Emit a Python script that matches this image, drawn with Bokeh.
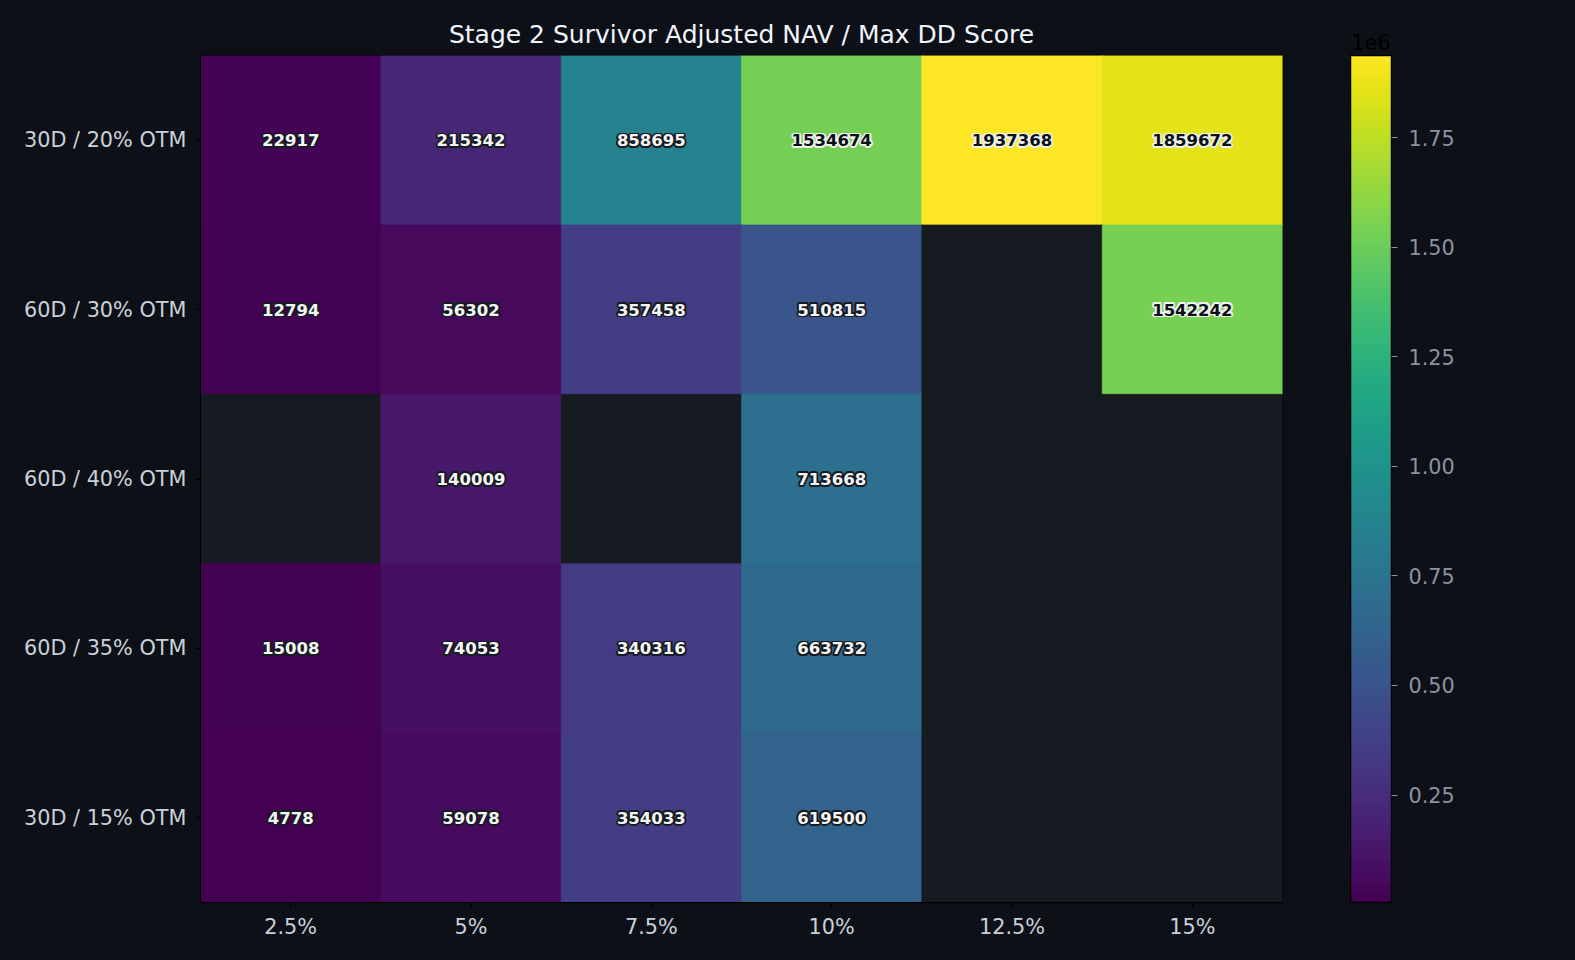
import math
from bokeh.plotting import figure
from bokeh.layouts import row
from bokeh.models import (ColumnDataSource, FactorRange, LinearColorMapper, ColorBar,
                          FixedTicker, CustomJSTickFormatter)
from bokeh.palettes import Viridis256
from bokeh.core.properties import value
from bokeh.embed import file_html
from bokeh.resources import INLINE

NAN = float("nan")

x_labels = ["2.5%", "5%", "7.5%", "10%", "12.5%", "15%"]
y_labels = ["30D / 20% OTM", "60D / 30% OTM", "60D / 40% OTM", "60D / 35% OTM", "30D / 15% OTM"]

row_30d_20 = [22917, 215342, 858695, 1534674, 1937368, 1859672]
row_60d_30 = [12794, 56302, 357458, 510815, NAN, 1542242]
row_60d_40 = [NAN, 140009, NAN, 713668, NAN, NAN]
row_60d_35 = [15008, 74053, 340316, 663732, NAN, NAN]
row_30d_15 = [4778, 59078, 354033, 619500, NAN, NAN]

rows = [row_30d_20, row_60d_30, row_60d_40, row_60d_35, row_30d_15]

cbar_ticks = [250000, 500000, 750000, 1000000, 1250000, 1500000, 1750000]

BG = "#0d1117"
NAN_COLOR = "#161b22"
FONT = "DejaVu Sans"

W, H = 1575, 960
FRAME_L, FRAME_T, FRAME_W, FRAME_H = 200, 55, 1082, 847
BAR_L, BAR_W = 1350, 41

xs, ys, vals = [], [], []
for yl, r_ in zip(y_labels, rows):
    for xl, v in zip(x_labels, r_):
        xs.append(xl)
        ys.append(yl)
        vals.append(v)

finite = [v for v in vals if not math.isnan(v)]
vmin, vmax = min(finite), max(finite)

cell_src = ColumnDataSource(dict(x=xs, y=ys, v=vals))

tx, ty, tl, tc, oc = [], [], [], [], []
for x, y, v in zip(xs, ys, vals):
    if math.isnan(v):
        continue
    tx.append(x)
    ty.append(y)
    tl.append(str(int(v)))
    bright = v > (vmax / 2)
    tc.append("#0d1117" if bright else "#f5f5f5")
    oc.append("#eef3ee" if bright else "#161b22")
text_src = ColumnDataSource(dict(x=tx, y=ty, label=tl, tc=tc, oc=oc))

mapper = LinearColorMapper(palette=Viridis256, low=vmin, high=vmax, nan_color=NAN_COLOR)

# ---- heatmap figure ----
p = figure(
    x_range=FactorRange(*x_labels),
    y_range=FactorRange(*list(reversed(y_labels))),
    frame_width=FRAME_W, frame_height=FRAME_H,
    min_border_left=FRAME_L, min_border_right=BAR_L - FRAME_L - FRAME_W,
    min_border_top=FRAME_T, min_border_bottom=H - FRAME_T - FRAME_H,
    output_backend="svg", toolbar_location=None,
    background_fill_color=BG, border_fill_color=BG,
    title="Stage 2 Survivor Adjusted NAV / Max DD Score",
)
p.title.align = "center"
p.title.text_color = "#f0f6fc"
p.title.text_font = FONT
p.title.text_font_size = "25px"
p.title.text_font_style = "normal"
p.title.standoff = 14

p.rect(x="x", y="y", width=1, height=1, source=cell_src, dilate=True,
       fill_color={"field": "v", "transform": mapper},
       line_color={"field": "v", "transform": mapper}, line_width=0.6)

# outline halo for the cell labels
rad = 1.7
offsets = [(rad * math.cos(a * math.pi / 8), rad * math.sin(a * math.pi / 8)) for a in range(16)]
for dx, dy in offsets:
    p.text(x="x", y="y", text="label", source=text_src,
           text_color="oc", x_offset=dx, y_offset=dy,
           text_font=value(FONT), text_font_style="bold", text_font_size="16.5px",
           text_align="center", text_baseline="middle")
p.text(x="x", y="y", text="label", source=text_src,
       text_color="tc",
       text_font=value(FONT), text_font_style="bold", text_font_size="16.5px",
       text_align="center", text_baseline="middle")

p.outline_line_color = "black"
p.outline_line_width = 1.5
p.grid.visible = False
for ax in (p.xaxis, p.yaxis):
    ax.axis_line_color = "black"
    ax.major_tick_line_color = "black"
    ax.major_tick_out = 5
    ax.major_tick_in = 0
    ax.minor_tick_line_color = None
    ax.major_label_text_color = "#c9d1d9"
    ax.major_label_text_font = FONT
    ax.major_label_text_font_size = "20.8px"
p.xaxis.major_label_standoff = 7
p.yaxis.major_label_standoff = 9

# ---- colour bar figure ----
cb = figure(
    frame_width=BAR_W, frame_height=FRAME_H,
    min_border_left=0, min_border_right=W - BAR_L - BAR_W,
    min_border_top=FRAME_T, min_border_bottom=H - FRAME_T - FRAME_H,
    output_backend="svg", toolbar_location=None,
    x_axis_location=None, y_axis_location=None,
    background_fill_color=BG, border_fill_color=BG,
    title="1e6",
)
cb.grid.visible = False
cb.outline_line_color = None
cb.title.align = "center"
cb.title.text_color = "black"
cb.title.text_font = FONT
cb.title.text_font_size = "20.8px"
cb.title.text_font_style = "normal"
cb.title.standoff = 11

cbar = ColorBar(
    color_mapper=mapper,
    ticker=FixedTicker(ticks=cbar_ticks),
    formatter=CustomJSTickFormatter(code="return (tick/1e6).toFixed(2);"),
    width=BAR_W,
    height=FRAME_H,
    major_label_text_color="#8b949e",
    major_label_text_font=FONT,
    major_label_text_font_size="20.8px",
    major_tick_line_color="#8b949e",
    major_tick_in=0,
    major_tick_out=6,
    minor_tick_line_color=None,
    bar_line_color="black",
    bar_line_width=1.5,
    label_standoff=11,
    background_fill_color=None,
    border_line_color=None,
    padding=0,
    margin=0,
    location=(0, 0),
)
cb.add_layout(cbar, "center")

layout = row(p, cb, spacing=0, styles={"background-color": BG})

open("out.html", "w").write(file_html(layout, INLINE))
